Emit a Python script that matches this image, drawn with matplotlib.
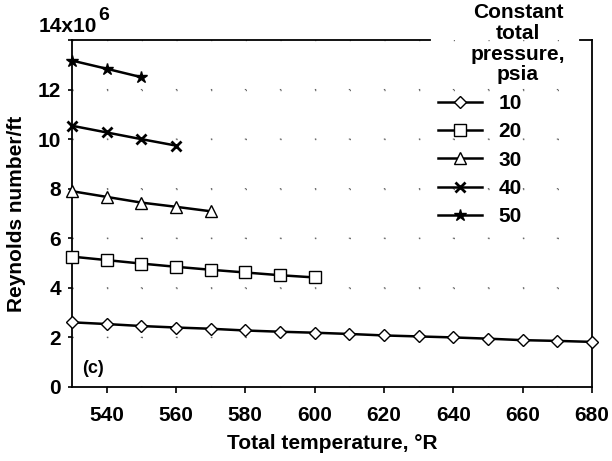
import matplotlib
matplotlib.use("Agg")
import matplotlib.pyplot as plt

plt.rcParams['font.family'] = ['Liberation Sans', 'DejaVu Sans']
plt.rcParams['font.weight'] = 'bold'
plt.rcParams['axes.labelweight'] = 'bold'

temps_10 = [530, 540, 550, 560, 570, 580, 590, 600, 610, 620, 630, 640, 650, 660, 670, 680]
re_10 = [2.61, 2.54, 2.46, 2.40, 2.35, 2.28, 2.23, 2.19, 2.14, 2.08, 2.04, 2.00, 1.95, 1.89, 1.86, 1.82]
temps_20 = [530, 540, 550, 560, 570, 580, 590, 600]
re_20 = [5.26, 5.12, 4.98, 4.85, 4.73, 4.62, 4.51, 4.42]
temps_30 = [530, 540, 550, 560, 570]
re_30 = [7.90, 7.67, 7.44, 7.27, 7.09]
temps_40 = [530, 540, 550, 560]
re_40 = [10.54, 10.27, 10.00, 9.74]
temps_50 = [530, 540, 550]
re_50 = [13.17, 12.84, 12.50]

labels = ['10', '20', '30', '40', '50']
xticks = [540, 560, 580, 600, 620, 640, 660, 680]
yticks = [0, 2, 4, 6, 8, 10, 12, 14]
ytick_labels = ['0', '2', '4', '6', '8', '10', '12', '']

W, H = 612, 461
fig = plt.figure(figsize=(W/100, H/100), dpi=100)
L, R, T, B = 72, 592, 40, 387
ax = fig.add_axes([L/W, 1-B/H, (R-L)/W, (B-T)/H])

series = [
    (temps_10, re_10, dict(marker='D', markersize=6, markerfacecolor='white')),
    (temps_20, re_20, dict(marker='s', markersize=9, markerfacecolor='white')),
    (temps_30, re_30, dict(marker='^', markersize=8, markerfacecolor='white')),
    (temps_40, re_40, dict(marker='x', markersize=7, markeredgewidth=2)),
    (temps_50, re_50, dict(marker='*', markersize=9)),
]
handles = []
for (t, r, st), lab in zip(series, labels):
    h, = ax.plot(t, r, color='black', lw=1.8, markeredgecolor='black', label=lab,
                 clip_on=False, zorder=3, **st)
    handles.append(h)

ax.set_xlim(530, 680)
ax.set_ylim(0, 14)
ax.set_xticks(xticks)
ax.set_yticks(yticks)
ax.set_yticklabels(ytick_labels)
ax.set_xticks(range(530, 681, 10), minor=True)
ax.tick_params(axis='x', which='major', direction='out', length=4, width=1.2,
               labelsize=15, pad=10)
ax.tick_params(axis='y', which='major', direction='out', length=3, width=1.2,
               labelsize=15, pad=5)
ax.tick_params(axis='x', which='minor', length=0)

# sparse dotted grid (dots near the intersections)
xper_pt = (R - L) / 15 * 0.72
yper_pt = (B - T) / 7 * 0.72
ax.grid(True, which='both', axis='y', color='0.4', linestyle=(0, (0.8, xper_pt - 0.8)), lw=1.0)
ax.grid(True, which='both', axis='x', color='0.4', linestyle=(0, (0.8, yper_pt - 0.8)), lw=1.0)

ax.spines['top'].set_visible(False)
for s in ['left', 'bottom', 'right']:
    ax.spines[s].set_linewidth(1.3)
# top frame, broken by the legend title
ax.plot([0, (430-L)/(R-L)], [1, 1], transform=ax.transAxes, color='black', lw=1.3, clip_on=False)
ax.plot([(580-L)/(R-L), 1], [1, 1], transform=ax.transAxes, color='black', lw=1.3, clip_on=False)

ax.set_xlabel('Total temperature, °R', fontsize=15, labelpad=6)
ax.set_ylabel('Reynolds number/ft', fontsize=15, labelpad=8)

fig.text(97/W, 1-26/H, '14x10', fontsize=15, va='center', ha='right')
fig.text(98/W, 1-16/H, '6', fontsize=14, va='center', ha='left')
ax.text(0.02, 0.03, '(c)', transform=ax.transAxes, fontsize=13, ha='left', va='bottom')

fig.text(518/W, 1-3/H, 'Constant\ntotal\npressure,\npsia', fontsize=15,
         ha='center', va='top', multialignment='center', linespacing=1.12)

leg = fig.legend(handles=handles, loc='upper left',
                 bbox_to_anchor=(438/W, 1-94/H), bbox_transform=fig.transFigure,
                 frameon=False, fontsize=15, handlelength=2.1, handletextpad=0.8,
                 labelspacing=0.45, borderpad=0, borderaxespad=0)

fig.savefig('out.png', dpi=100)
